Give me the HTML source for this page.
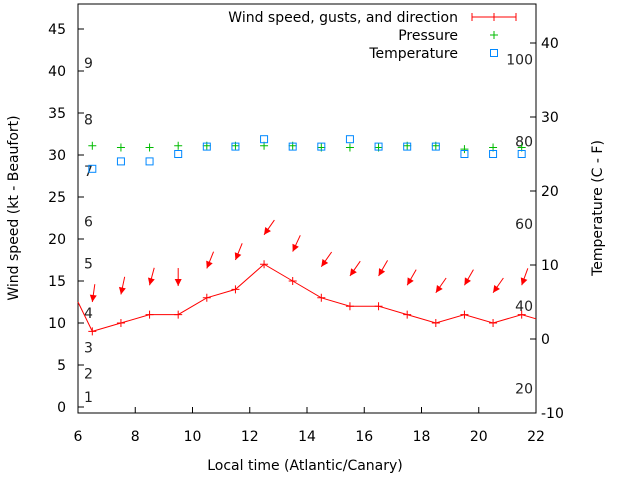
<!DOCTYPE html>
<html><head><meta charset="utf-8"><style>
body{margin:0;background:#fff}
svg{display:block;font-family:"DejaVu Sans","Liberation Sans",sans-serif;font-size:14px}
</style></head><body>
<svg id="c" width="640" height="480" xmlns="http://www.w3.org/2000/svg">
<rect width="640" height="480" fill="#fff"/>
<g id="marks"></g>
</svg>
<script>
const hours=[6.5,7.5,8.5,9.5,10.5,11.5,12.5,13.5,14.5,15.5,16.5,17.5,18.5,19.5,20.5,21.5];
const wind=[9,10,11,11,13,14,17,15,13,12,12,11,10,11,10,11];
const windStart=12.5, windEnd=10.5;
const gust=[12.5,13.4,14.5,14.4,16.5,17.5,20.5,18.5,16.7,15.6,15.6,14.5,13.6,14.5,13.6,14.5];
const dir=[8,12,15,0,22,22,35,25,35,35,30,30,35,30,35,20];
const pressure=[31.1,30.9,30.9,31.1,31.1,31.1,31.1,31.1,30.9,30.9,30.9,31.1,31.1,30.7,30.9,30.9];
const temp=[23,24,24,25,26,26,27,26,26,27,26,26,26,25,25,25];
const xTicks=[6,8,10,12,14,16,18,20,22];
const yTicks=[0,5,10,15,20,25,30,35,40,45];
const y2Ticks=[-10,0,10,20,30,40];
const beaufort=[1,2,3,4,5,6,7,8,9];
const beaufortKt=[1.2,4.0,7.1,11.2,17.1,22.1,28.1,34.2,40.95];
const fahr=[20,40,60,80,100];
const L=78,R=536,T=4,B=413;
const X=h=>L+(h-6)*(R-L)/16;
const Y=v=>407-v*8.4;
const Y2=c=>339-c*7.4;
const NS='http://www.w3.org/2000/svg';
const g=document.getElementById('marks');
function mk(tag,attrs,name,txt){const e=document.createElementNS(NS,tag);for(const k in attrs)e.setAttribute(k,attrs[k]);


if(txt!==undefined)e.textContent=txt;g.appendChild(e);return e;}
mk('rect',{x:L,y:T,width:R-L,height:B-T,fill:'none',stroke:'#000','stroke-width':1},'plot-frame');
xTicks.forEach(t=>{mk('line',{x1:X(t),x2:X(t),y1:B,y2:B-6,stroke:'#000'},'x-tick');
mk('text',{x:X(t),y:441,'text-anchor':'middle'},'x-tick-label',t);});
yTicks.forEach(t=>{mk('line',{x1:L,x2:L+6,y1:Y(t),y2:Y(t),stroke:'#000'},'y-tick');
mk('text',{x:L-12,y:Y(t)+5,'text-anchor':'end'},'y-tick-label',t);});
y2Ticks.forEach(t=>{mk('line',{x1:R,x2:R-6,y1:Y2(t),y2:Y2(t),stroke:'#000'},'y2-tick');
mk('text',{x:R+5,y:Y2(t)+5},'y2-tick-label',t);});
beaufort.forEach((b,i)=>mk('text',{x:84,y:Y(beaufortKt[i])+5,fill:'#222'},'beaufort-label',b));
fahr.forEach(f=>mk('text',{x:533,y:Y2((f-32)*5/9)+5,'text-anchor':'end',fill:'#222'},'fahrenheit-label',f));
mk('text',{x:305,y:470,'text-anchor':'middle'},'x-axis-title','Local time (Atlantic/Canary)');
mk('text',{x:18,y:208,'text-anchor':'middle',transform:'rotate(-90 18 208)'},'y-axis-title','Wind speed (kt - Beaufort)');
mk('text',{x:602,y:208,'text-anchor':'middle',transform:'rotate(-90 602 208)'},'y2-axis-title','Temperature (C - F)');
let pts=[[L,Y(windStart)]].concat(hours.map((h,i)=>[X(h),Y(wind[i])])).concat([[R,Y(windEnd)]]);
mk('polyline',{points:pts.map(p=>p.join(',')).join(' '),fill:'none',stroke:'#f00','stroke-width':1},'wind-line');
hours.forEach((h,i)=>mk('path',{d:`M${X(h)-4},${Y(wind[i])}h8M${X(h)},${Y(wind[i])-4}v8`,stroke:'#f00'},'wind-point'));
hours.forEach((h,i)=>{const tx=X(h),ty=Y(gust[i]);const a=dir[i]*Math.PI/180;const len=18;
const sx=tx+len*Math.sin(a),sy=ty-len*Math.cos(a);const ux=(tx-sx)/len,uy=(ty-sy)/len;
const hx=tx-7*ux,hy=ty-7*uy;const px=-uy,py=ux;
mk('line',{x1:sx,y1:sy,x2:tx,y2:ty,stroke:'#f00'},'wind-direction-arrow');
mk('polygon',{points:`${tx},${ty} ${hx+3.5*px},${hy+3.5*py} ${hx-3.5*px},${hy-3.5*py}`,fill:'#f00'},'wind-arrow-head');});
hours.forEach((h,i)=>mk('path',{d:`M${X(h)-4},${Y(pressure[i])}h8M${X(h)},${Y(pressure[i])-4}v8`,stroke:'#0b0'},'pressure-point'));
hours.forEach((h,i)=>mk('rect',{x:X(h)-3.5,y:Y2(temp[i])-3.5,width:7,height:7,fill:'none',stroke:'#08f'},'temperature-point'));
mk('text',{x:458,y:22,'text-anchor':'end'},'legend-wind-label','Wind speed, gusts, and direction');
mk('path',{d:'M472,17h44M472,13v8M516,13v8M494,13v8',stroke:'#f00'},'legend-wind-sample');
mk('text',{x:458,y:40,'text-anchor':'end'},'legend-pressure-label','Pressure');
mk('path',{d:'M490,35h8M494,31v8',stroke:'#0b0'},'legend-pressure-sample');
mk('text',{x:458,y:58,'text-anchor':'end'},'legend-temperature-label','Temperature');
mk('rect',{x:490.5,y:49.5,width:7,height:7,fill:'none',stroke:'#08f'},'legend-temperature-sample');
</script>
</body></html>
